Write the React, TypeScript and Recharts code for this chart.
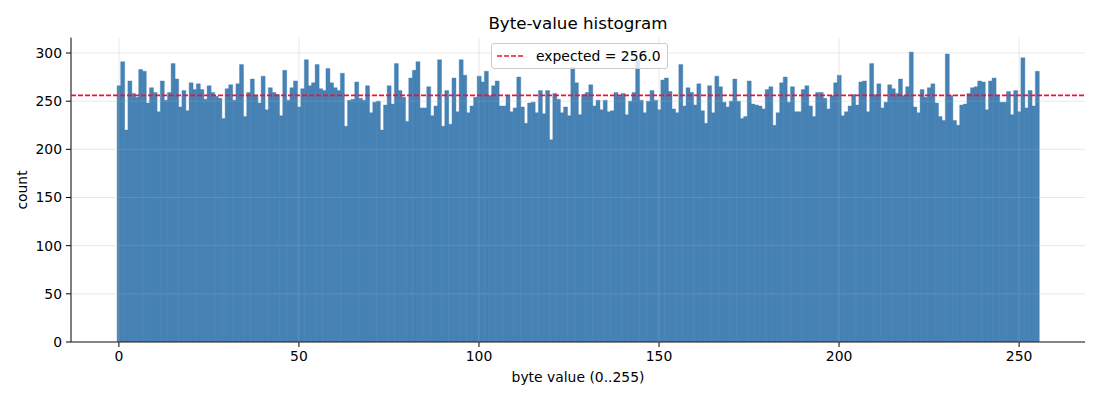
import React from 'react';
import { ComposedChart, Bar, XAxis, YAxis, ReferenceLine } from 'recharts';

// counts per byte value 0..255
const counts = [
  266, 291, 220, 271, 258, 254, 283, 281, 248, 264, 259, 239, 271, 251, 259, 289,
  273, 244, 261, 240, 269, 262, 268, 262, 252, 266, 259, 255, 253, 232, 263, 267,
  251, 268, 288, 234, 259, 273, 256, 248, 276, 241, 264, 259, 257, 235, 282, 251,
  264, 271, 244, 263, 293, 266, 269, 288, 263, 261, 284, 269, 264, 261, 279, 224,
  251, 252, 270, 253, 251, 266, 238, 249, 250, 220, 246, 266, 247, 289, 261, 254,
  229, 274, 282, 291, 243, 243, 265, 235, 245, 293, 224, 261, 226, 274, 239, 293,
  277, 238, 245, 254, 276, 270, 281, 256, 266, 271, 245, 245, 256, 239, 243, 275,
  244, 227, 248, 249, 238, 261, 237, 261, 210, 258, 252, 238, 244, 235, 285, 269,
  236, 257, 259, 267, 245, 251, 241, 251, 239, 240, 259, 255, 258, 236, 250, 259,
  293, 251, 238, 250, 261, 251, 241, 272, 274, 260, 242, 238, 288, 245, 264, 259,
  246, 268, 240, 227, 266, 238, 276, 265, 249, 244, 250, 273, 250, 232, 234, 271,
  247, 246, 245, 242, 262, 265, 225, 238, 269, 275, 249, 265, 239, 239, 262, 266,
  245, 234, 259, 259, 253, 242, 256, 269, 277, 235, 239, 245, 257, 246, 270, 271,
  239, 289, 257, 268, 243, 249, 267, 263, 258, 273, 256, 265, 301, 244, 238, 262,
  254, 264, 268, 248, 234, 230, 299, 256, 230, 225, 246, 247, 258, 264, 265, 271,
  270, 241, 271, 274, 256, 249, 249, 260, 236, 261, 239, 295, 243, 261, 245, 281,
];

const xTicks = [0, 50, 100, 150, 200, 250];
const yTicks = [0, 50, 100, 150, 200, 250, 300];
const expectedCount = 256.0;
const titleText = 'Byte-value histogram';
const xLabelText = 'byte value (0..255)';
const yLabelText = 'count';
const legendText = 'expected = 256.0';

const data = counts.map((count, byte) => ({ byte, count }));

const FONT = '"DejaVu Sans", sans-serif';
const BAR_COLOR = '#4682b4';
const REF_COLOR = '#f0103c';
const GRID_COLOR = '#b0b0b0';

export default function App() {
  return (
    <div
      style={{
        position: 'absolute',
        left: 0,
        top: 0,
        width: 1100,
        height: 400,
        background: '#ffffff',
        fontFamily: FONT,
        color: '#000',
      }}
    >
      <ComposedChart
        width={1100}
        height={400}
        data={data}
        margin={{ top: 37.6, right: 15, bottom: 28, left: 0 }}
        barCategoryGap={0}
        barGap={0}
      >
        <XAxis
          type="number"
          dataKey="byte"
          domain={[-13.3, 268.3]}
          ticks={xTicks}
          allowDataOverflow
          interval={0}
          height={30}
          tickSize={5}
          tickMargin={4}
          stroke="#000"
          tick={{ fill: '#000', fontSize: 13.9, fontFamily: FONT }}
        />
        <YAxis
          type="number"
          domain={[0, 316]}
          ticks={yTicks}
          allowDataOverflow
          interval={0}
          width={71}
          tickSize={5}
          tickMargin={4}
          stroke="#000"
          tick={{ fill: '#000', fontSize: 13.9, fontFamily: FONT }}
        />
        <Bar
          dataKey="count"
          fill={BAR_COLOR}
          stroke={BAR_COLOR}
          strokeWidth={0.4}
          isAnimationActive={false}
        />
        {xTicks.map((t) => (
          <ReferenceLine
            key={'gx' + t}
            x={t}
            stroke={GRID_COLOR}
            strokeOpacity={0.35}
            strokeWidth={0.8}
            zIndex={2400}
          />
        ))}
        {yTicks.map((t) => (
          <ReferenceLine
            key={'gy' + t}
            y={t}
            stroke={GRID_COLOR}
            strokeOpacity={0.35}
            strokeWidth={0.8}
            zIndex={2400}
          />
        ))}
        <ReferenceLine
          y={expectedCount}
          stroke={REF_COLOR}
          strokeOpacity={1}
          strokeWidth={1.6}
          strokeDasharray="5 2"
          zIndex={2500}
        />
      </ComposedChart>

      <div
        style={{
          position: 'absolute',
          left: 0,
          width: 1156,
          top: 14,
          textAlign: 'center',
          fontSize: 16.7,
          lineHeight: '18px',
          whiteSpace: 'nowrap',
        }}
      >
        {titleText}
      </div>

      <div
        style={{
          position: 'absolute',
          left: 0,
          width: 1156,
          top: 369,
          textAlign: 'center',
          fontSize: 13.9,
          lineHeight: '16px',
          whiteSpace: 'nowrap',
        }}
      >
        {xLabelText}
      </div>

      <div
        style={{
          position: 'absolute',
          left: 22,
          top: 190,
          fontSize: 13.9,
          lineHeight: '16px',
          whiteSpace: 'nowrap',
          transform: 'translate(-50%, -50%) rotate(-90deg)',
        }}
      >
        {yLabelText}
      </div>

      <div
        style={{
          position: 'absolute',
          left: 491,
          top: 43,
          width: 175,
          height: 24,
          border: '1px solid #cccccc',
          borderRadius: 3,
          background: 'rgba(255,255,255,0.8)',
          display: 'flex',
          alignItems: 'center',
          fontSize: 13.9,
          whiteSpace: 'nowrap',
        }}
      >
        <svg width={44} height={10} style={{ flex: 'none' }}>
          <line
            x1={5}
            y1={5}
            x2={32}
            y2={5}
            stroke={REF_COLOR}
            strokeWidth={1.5}
            strokeDasharray="5 2"
          />
        </svg>
        <span>{legendText}</span>
      </div>
    </div>
  );
}
